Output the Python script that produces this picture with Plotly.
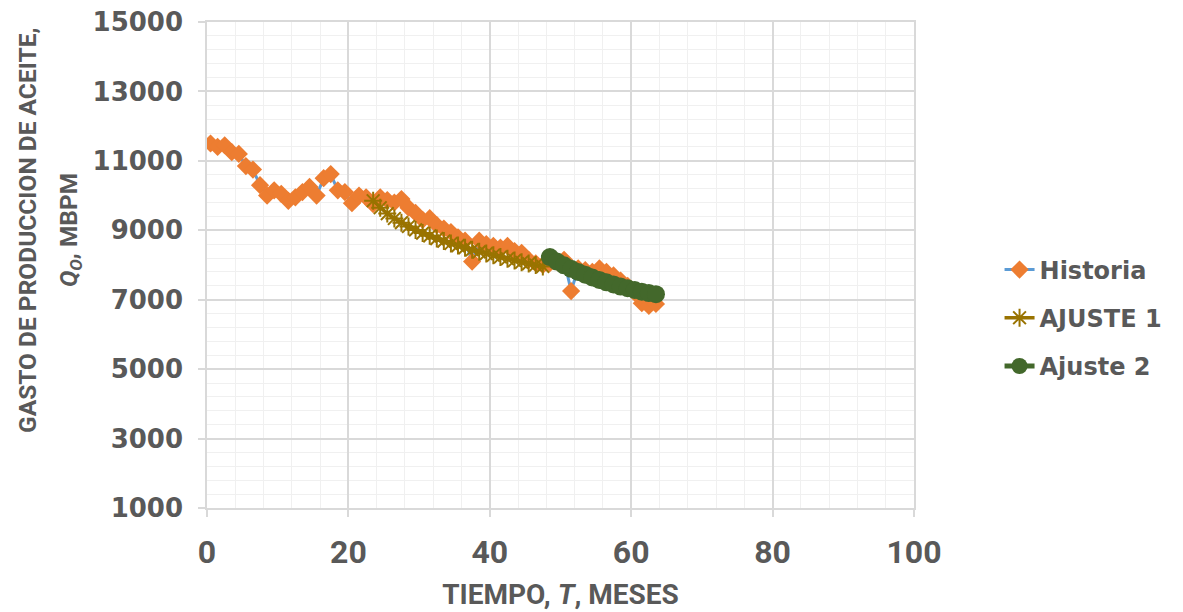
import plotly.graph_objects as go

# ---------------- data ----------------
hist_t = [0.5, 1.5, 2.5, 3.5, 4.5, 5.5, 6.5, 7.5, 8.5, 9.5, 10.5, 11.5, 12.5, 13.5,
          14.5, 15.5, 16.5, 17.5, 18.5, 19.5, 20.5, 21.5, 22.5, 23.5, 24.5, 25.5,
          26.5, 27.5, 28.5, 29.5, 30.5, 31.5, 32.5, 33.5, 34.5, 35.5, 36.5, 37.5,
          38.5, 39.5, 40.5, 41.5, 42.5, 43.5, 44.5, 45.5, 46.5, 47.5, 48.5, 49.5,
          50.5, 51.5, 52.5, 53.5, 54.5, 55.5, 56.5, 57.5, 58.5, 59.5, 60.5, 61.5,
          62.5, 63.5]
hist_q = [11500, 11400, 11450, 11250, 11200, 10850, 10750, 10300, 10000, 10150,
          10050, 9850, 9950, 10100, 10250, 10000, 10500, 10620, 10150, 10100,
          9780, 10000, 9950, 9750, 9950, 9870, 9800, 9900, 9650, 9500,
          9300, 9350, 9150, 9050, 8950, 8800, 8700, 8100, 8700, 8600,
          8550, 8500, 8550, 8400, 8350, 8150, 8050, 8000, 8050, 8100,
          8150, 7250, 7900, 7850, 7800, 7900, 7800, 7700, 7550, 7400,
          7200, 6900, 6820, 6880]

aj1_t = [23.5, 24.5, 25.5, 26.5, 27.5, 28.5, 29.5, 30.5, 31.5, 32.5, 33.5, 34.5,
         35.5, 36.5, 37.5, 38.5, 39.5, 40.5, 41.5, 42.5, 43.5, 44.5, 45.5, 46.5, 47.5]
aj1_q = [9850, 9650, 9480, 9340, 9220, 9110, 9010, 8920, 8840, 8760, 8690, 8620,
         8560, 8500, 8440, 8380, 8330, 8280, 8230, 8180, 8130, 8080, 8040, 8000, 7960]

aj2_t = [48.5, 49.5, 50.5, 51.5, 52.5, 53.5, 54.5, 55.5, 56.5, 57.5, 58.5, 59.5,
         60.5, 61.5, 62.5, 63.5]
aj2_q = [8230, 8100, 7990, 7890, 7800, 7720, 7640, 7570, 7500, 7440, 7380, 7330,
         7280, 7230, 7190, 7160]

x_ticks = [0, 20, 40, 60, 80, 100]
y_ticks = [1000, 3000, 5000, 7000, 9000, 11000, 13000, 15000]

series_names = ["Historia", "AJUSTE 1", "Ajuste 2"]
y_title_lines = ["GASTO DE PRODUCCION DE ACEITE,", "<i>Q<sub>O</sub></i>, MBPM"]
x_title = "TIEMPO, <i>T</i>, MESES"

# ---------------- styling ----------------
TXT = "#595959"
GRID = "#D9D9D9"
MINOR = "#F0F0F0"
NARROW = "Roboto, Liberation Sans, Arial, sans-serif"
WIDE = "DejaVu Sans, Liberation Sans, Arial, sans-serif"

fig = go.Figure()
fig.add_trace(go.Scatter(
    x=hist_t, y=hist_q, name=series_names[0], mode="lines+markers",
    line=dict(color="#5B9BD5", width=3),
    marker=dict(symbol="diamond", size=14, color="#ED7D31"),
    legendgroup="g1"))
fig.add_trace(go.Scatter(
    x=aj1_t, y=aj1_q, name=series_names[1], mode="lines+markers",
    line=dict(color="#997300", width=3.5),
    marker=dict(symbol="asterisk-open", size=15, color="#997300",
                line=dict(color="#997300", width=2)),
    legendgroup="g2"))
fig.add_trace(go.Scatter(
    x=aj2_t, y=aj2_q, name=series_names[2], mode="lines+markers",
    line=dict(color="#43682B", width=5),
    marker=dict(symbol="circle", size=18, color="#43682B"),
    legendgroup="g3"))

# the page body adds an 8px margin, so the figure is 8px smaller and shifted
fig.update_layout(
    width=1175, height=604,
    margin=dict(l=199, r=269, t=14, b=104, autoexpand=False),
    paper_bgcolor="white", plot_bgcolor="white",
    showlegend=True,
    legend=dict(x=1.121, y=0.391, xanchor="left", yanchor="middle",
                font=dict(family=WIDE, size=24, color=TXT, weight="bold"),
                tracegroupgap=14, itemwidth=30, bgcolor="rgba(0,0,0,0)"),
    font=dict(family=WIDE, color=TXT),
)

fig.update_xaxes(
    range=[0, 100], tickvals=x_ticks, ticktext=[str(v) for v in x_ticks],
    automargin=False, ticklabeloverflow="allow",
    showgrid=True, gridcolor=GRID, gridwidth=1.5,
    minor=dict(dtick=4, tick0=0, showgrid=True, gridcolor=MINOR, gridwidth=1),
    ticks="outside", ticklen=7, tickcolor=GRID, tickwidth=1.5,
    showline=True, linecolor=GRID, linewidth=1.5, mirror=True, zeroline=False,
    tickfont=dict(family=NARROW, size=32, color=TXT, weight="bold"),
    ticklabelstandoff=8,
    title=dict(text=x_title, standoff=14,
               font=dict(family=NARROW, size=28, color=TXT, weight="bold")),
)
fig.update_yaxes(
    range=[1000, 15000], tickvals=y_ticks, ticktext=[str(v) for v in y_ticks],
    automargin=False, ticklabeloverflow="allow",
    showgrid=True, gridcolor=GRID, gridwidth=1.5,
    minor=dict(dtick=400, tick0=1000, showgrid=True, gridcolor=MINOR, gridwidth=1),
    ticks="outside", ticklen=7, tickcolor=GRID, tickwidth=1.5,
    showline=True, linecolor=GRID, linewidth=1.5, mirror=True, zeroline=False,
    tickfont=dict(family=WIDE, size=26, color=TXT, weight="bold"),
    ticklabelstandoff=10,
)

for txt, xp in zip(y_title_lines, [-0.2546, -0.1937]):
    fig.add_annotation(
        text=txt, xref="paper", yref="paper", x=xp, y=0.572,
        xanchor="center", yanchor="middle", textangle=-90, showarrow=False,
        font=dict(family=NARROW, size=24.5, color=TXT, weight="bold"),
    )

fig.write_html("out.html")
